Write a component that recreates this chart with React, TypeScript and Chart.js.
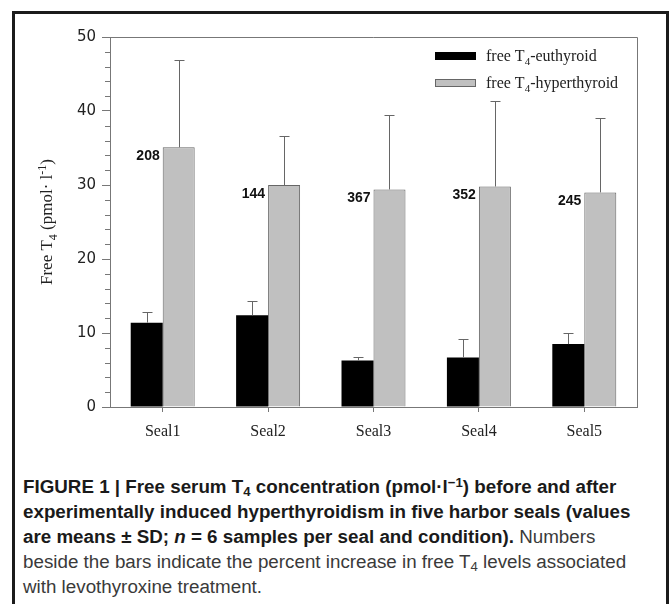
import React, { useEffect, useRef } from 'react';
import { Chart, registerables } from 'chart.js';

Chart.register(...registerables);

// ---- data ----
const categories = ['Seal1', 'Seal2', 'Seal3', 'Seal4', 'Seal5'];
const seriesNames = ['free T₄-euthyroid', 'free T₄-hyperthyroid'];
const euthyroid = [11.4, 12.4, 6.3, 6.7, 8.5];
const euthyroidSD = [1.4, 1.9, 0.4, 2.5, 1.45];
const hyperthyroid = [35.1, 30.0, 29.4, 29.8, 29.0];
const hyperthyroidSD = [11.8, 6.6, 10.1, 11.6, 10.0];
const percentIncrease = ['208', '144', '367', '352', '245'];
const yTicks = [0, 10, 20, 30, 40, 50];
const yTitle = 'Free T₄ (pmol· l⁻¹)';

const SUB = '₀₁₂₃₄₅₆₇₈₉';
const SUP = '⁰¹²³⁴⁵⁶⁷⁸⁹';

type Part = { t: string; k: 'n' | 'sub' | 'sup' };
function parseRich(s: string): Part[] {
  const parts: Part[] = [];
  for (const ch of s) {
    let k: Part['k'] = 'n';
    let t = ch;
    const si = SUB.indexOf(ch);
    const pi = SUP.indexOf(ch);
    if (si >= 0) { k = 'sub'; t = String(si); }
    else if (pi >= 0) { k = 'sup'; t = String(pi); }
    else if (ch === '⁻') { k = 'sup'; t = '-'; }
    const last = parts[parts.length - 1];
    if (last && last.k === k) last.t += t; else parts.push({ t, k });
  }
  return parts;
}
function drawRich(ctx: CanvasRenderingContext2D, s: string, x: number, y: number, size: number, family: string, align: 'left' | 'center') {
  const parts = parseRich(s);
  const small = Math.round(size * 0.68);
  const fontFor = (k: string) => `${k === 'n' ? size : small}px ${family}`;
  let total = 0;
  for (const p of parts) { ctx.font = fontFor(p.k); total += ctx.measureText(p.t).width; }
  let cx = align === 'center' ? x - total / 2 : x;
  ctx.textAlign = 'left';
  ctx.textBaseline = 'alphabetic';
  for (const p of parts) {
    ctx.font = fontFor(p.k);
    const dy = p.k === 'sub' ? size * 0.28 : p.k === 'sup' ? -size * 0.38 : 0;
    ctx.fillText(p.t, cx, y + dy);
    cx += ctx.measureText(p.t).width;
  }
}

const SERIF = '"Liberation Serif", "Times New Roman", serif';

const boxPlugin = {
  id: 'boxPlugin',
  beforeDatasetsDraw(chart: any) {
    const { ctx, chartArea: a, scales } = chart;
    ctx.save();
    ctx.strokeStyle = '#777';
    ctx.lineWidth = 1;
    ctx.beginPath();
    ctx.moveTo(a.left, a.top + 0.5);
    ctx.lineTo(a.right + 0.5, a.top + 0.5);
    ctx.lineTo(a.right + 0.5, a.bottom);
    ctx.stroke();
    // minor ticks
    const y = scales.y;
    ctx.beginPath();
    for (let v = 2; v < 50; v += 2) {
      if (v % 10 === 0) continue;
      const py = Math.round(y.getPixelForValue(v)) + 0.5;
      ctx.moveTo(a.left - 5, py);
      ctx.lineTo(a.left, py);
    }
    ctx.stroke();
    ctx.restore();
  },
};

const errorPlugin = {
  id: 'errorPlugin',
  afterDatasetsDraw(chart: any) {
    const { ctx, scales } = chart;
    const sds = [euthyroidSD, hyperthyroidSD];
    const vals = [euthyroid, hyperthyroid];
    ctx.save();
    ctx.strokeStyle = '#666';
    ctx.lineWidth = 1;
    chart.data.datasets.forEach((_: any, di: number) => {
      const meta = chart.getDatasetMeta(di);
      meta.data.forEach((bar: any, i: number) => {
        const x = Math.round(bar.x) + 0.5;
        const yTop = Math.round(scales.y.getPixelForValue(vals[di][i] + sds[di][i])) + 0.5;
        ctx.beginPath();
        ctx.moveTo(x, bar.y);
        ctx.lineTo(x, yTop);
        ctx.moveTo(x - 5, yTop);
        ctx.lineTo(x + 5, yTop);
        ctx.stroke();
      });
    });
    // percent labels
    const meta = chart.getDatasetMeta(1);
    ctx.fillStyle = '#111';
    ctx.font = 'bold 14px "Liberation Sans", Arial, sans-serif';
    ctx.textAlign = 'right';
    ctx.textBaseline = 'middle';
    meta.data.forEach((bar: any, i: number) => {
      ctx.fillText(percentIncrease[i], bar.x - bar.width / 2 - 3, bar.y + 9);
    });
    ctx.restore();
  },
};

const legendPlugin = {
  id: 'legendPlugin',
  afterDraw(chart: any) {
    const { ctx, chartArea: a } = chart;
    ctx.save();
    chart.data.datasets.forEach((ds: any, i: number) => {
      const cy = a.top + 19 + i * 27;
      const sx = a.right - 202;
      ctx.fillStyle = ds.backgroundColor;
      ctx.fillRect(sx, cy - 4, 41, 8);
      if (i === 1) {
        ctx.strokeStyle = '#666';
        ctx.lineWidth = 1;
        ctx.strokeRect(sx + 0.5, cy - 3.5, 40, 7);
      }
      ctx.fillStyle = '#222';
      drawRich(ctx, ds.label, a.right - 151, cy + 5, 16, SERIF, 'left');
    });
    // y title
    ctx.translate(32, (a.top + a.bottom) / 2);
    ctx.rotate(-Math.PI / 2);
    ctx.fillStyle = '#222';
    drawRich(ctx, yTitle, 0, 6, 17, SERIF, 'center');
    ctx.restore();
  },
};

function ChartCanvas() {
  const ref = useRef<HTMLCanvasElement | null>(null);
  useEffect(() => {
    if (!ref.current) return;
    const chart = new Chart(ref.current, {
      type: 'bar',
      data: {
        labels: categories,
        datasets: [
          {
            label: seriesNames[0],
            data: euthyroid,
            backgroundColor: '#000000',
            borderColor: '#000000',
            borderWidth: 0,
            categoryPercentage: 0.607,
            barPercentage: 1,
          },
          {
            label: seriesNames[1],
            data: hyperthyroid,
            backgroundColor: '#c0c0c0',
            borderColor: '#666666',
            borderWidth: 1,
            categoryPercentage: 0.607,
            barPercentage: 1,
          },
        ],
      },
      options: {
        responsive: false,
        animation: false,
        devicePixelRatio: 1,
        layout: { padding: { left: 0, top: 24, right: 31, bottom: 0 } },
        plugins: { legend: { display: false }, tooltip: { enabled: false } },
        scales: {
          x: {
            grid: { drawOnChartArea: false, offset: false, tickLength: 5, color: '#777' },
            border: { color: '#777' },
            ticks: { font: { family: SERIF, size: 16 }, color: '#222', padding: 10 },
            afterFit: (s: any) => { s.height = 46; },
          },
          y: {
            min: 0,
            max: 50,
            afterBuildTicks: (s: any) => { s.ticks = yTicks.map((v) => ({ value: v })); },
            grid: { drawOnChartArea: false, tickLength: 8, color: '#777' },
            border: { color: '#777' },
            ticks: { font: { family: '"DejaVu Sans", Verdana, sans-serif', size: 15 }, color: '#222', padding: 6 },
            afterFit: (s: any) => { s.width = 96; },
          },
        },
      },
      plugins: [boxPlugin, errorPlugin, legendPlugin],
    });
    return () => chart.destroy();
  }, []);
  return <canvas ref={ref} width={654} height={440} style={{ position: 'absolute', left: 14, top: 13, width: 654, height: 440 }} />;
}

const capFont = '"Liberation Sans", Arial, Helvetica, sans-serif';

export default function App() {
  const bold: React.CSSProperties = { fontWeight: 700, color: '#1a1a1a' };
  const reg: React.CSSProperties = { fontWeight: 400, color: '#3a3a3a' };
  const line: React.CSSProperties = { whiteSpace: 'nowrap', height: 25, lineHeight: '25px' };
  const sub: React.CSSProperties = { fontSize: '0.7em', verticalAlign: '-0.25em', lineHeight: 0 };
  const sup: React.CSSProperties = { fontSize: '0.7em', verticalAlign: '0.45em', lineHeight: 0 };
  return (
    <div style={{ position: 'absolute', left: 0, top: 0, width: 671, height: 604, overflow: 'hidden', background: '#fff' }}>
      <div style={{ position: 'absolute', left: 12, top: 11, width: 657, height: 700, border: '3px solid #1b1b1b', borderBottom: 'none', boxSizing: 'border-box' }} />
      <ChartCanvas />
      <div style={{ position: 'absolute', left: 23, top: 474, fontFamily: capFont, fontSize: 18.8 }}>
        <div style={line}><span style={bold}>FIGURE 1 | Free serum T<span style={sub}>4</span> concentration (pmol·l<span style={sup}>−1</span>) before and after</span></div>
        <div style={line}><span style={bold}>experimentally induced hyperthyroidism in five harbor seals (values</span></div>
        <div style={line}><span style={bold}>are means ± SD; <i>n</i> = 6 samples per seal and condition).</span><span style={reg}> Numbers</span></div>
        <div style={line}><span style={reg}>beside the bars indicate the percent increase in free T<span style={sub}>4</span> levels associated</span></div>
        <div style={line}><span style={reg}>with levothyroxine treatment.</span></div>
      </div>
    </div>
  );
}
